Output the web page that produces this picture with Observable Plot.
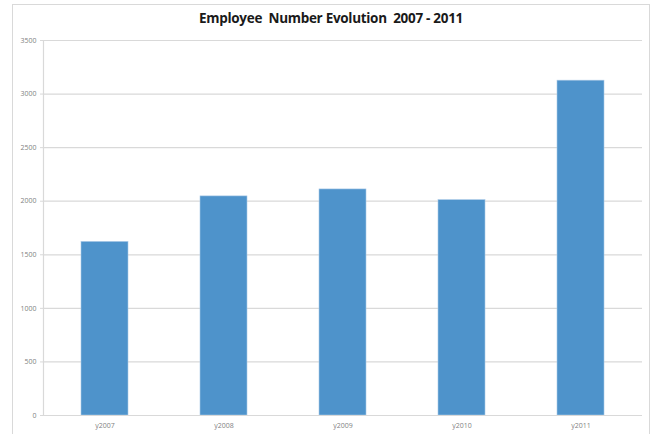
<!DOCTYPE html>
<html>
<head>
<meta charset="utf-8">
<script src="https://cdn.jsdelivr.net/npm/d3@7"></script>
<script src="https://cdn.jsdelivr.net/npm/@observablehq/plot@0.6"></script>
<style>
  html, body { margin: 0; padding: 0; background: #fff; }
  #wrap { position: relative; width: 652px; height: 434px; overflow: hidden; }
  #frame { position: absolute; left: 12px; top: 4px; width: 638px; height: 460px; border: 1px solid #d9d9d9; box-sizing: border-box; }
  #title { position: absolute; left: 0; width: 662px; top: 9px; text-align: center; font-family: "Open Sans", sans-serif; font-weight: bold; font-size: 13.5px; color: #1a1a1a; white-space: pre; letter-spacing: -0.3px; }
  #chart { position: absolute; left: 0; top: 0; }
</style>
</head>
<body>
<div id="wrap">
  <div id="frame"></div>
  <div id="title">Employee  Number Evolution  2007 - 2011</div>
  <div id="chart"></div>
</div>
<script>
const categories = ["y2007", "y2008", "y2009", "y2010", "y2011"];
const employees = [1620, 2045, 2110, 2010, 3125];
const yTicks = [0, 500, 1000, 1500, 2000, 2500, 3000, 3500];

const data = categories.map((c, i) => ({year: c, value: employees[i]}));

const chart = Plot.plot({
  width: 652,
  height: 434,
  marginLeft: 43,
  marginRight: 10,
  marginTop: 40,
  marginBottom: 19,
  style: {background: "transparent", fontFamily: "'Open Sans', sans-serif"},
  x: {domain: categories, paddingInner: 0.603, paddingOuter: 0.3, label: null},
  y: {domain: [0, 3500], label: null},
  marks: [
    Plot.ruleY(yTicks.filter(d => d > 0), {stroke: "#d9d9d9", strokeWidth: 1.2}),
    Plot.barY(data, {x: "year", y: "value", fill: "#4e93cb", stroke: "#a9c9e6", strokeWidth: 0.6}),
    Plot.axisY(yTicks, {tickSize: 3, tickPadding: 4, fontSize: 7, stroke: "#d9d9d9", fill: "#7f7f7f", tickFormat: d => String(d)}),
    Plot.axisX({tickSize: 0, tickPadding: 8, fontSize: 7, fill: "#7f7f7f"}),
    Plot.frame({anchor: "left", stroke: "#d9d9d9", strokeWidth: 1.2}),
    Plot.ruleY([0], {stroke: "#d9d9d9", strokeWidth: 1.2})
  ]
});
document.getElementById("chart").appendChild(chart);
</script>
</body>
</html>
